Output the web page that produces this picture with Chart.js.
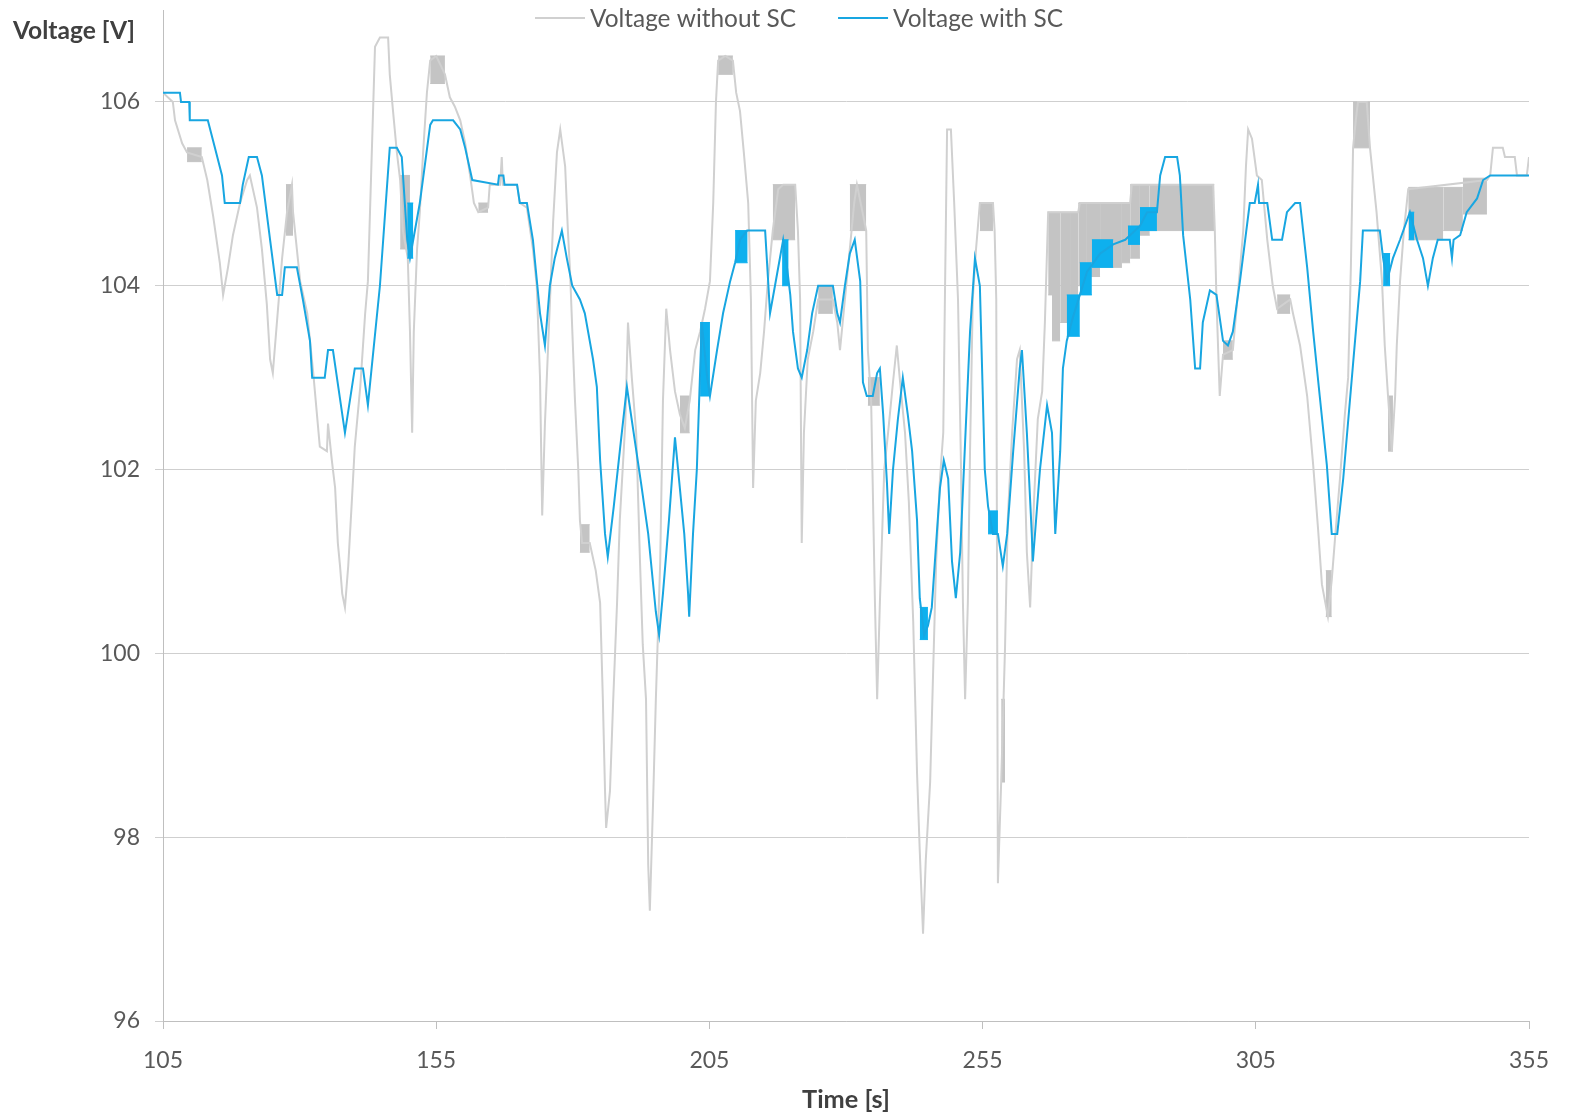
<!DOCTYPE html>
<html>
<head>
<meta charset="utf-8">
<title>Voltage with and without SC</title>
<script src="https://cdn.jsdelivr.net/npm/chart.js@4.4.1/dist/chart.umd.min.js"></script>
<style>
  html, body { margin: 0; padding: 0; background: #ffffff; }
  #wrap { width: 1573px; height: 1117px; }
</style>
</head>
<body>
<div id="wrap"><canvas id="chart" width="1573" height="1117"></canvas></div>
<script>
// ---- data ----
const seriesLabels = ['Voltage without SC', 'Voltage with SC'];
const xTicks = [105, 155, 205, 255, 305, 355];
const yTicks = [96, 98, 100, 102, 104, 106];

// Voltage without supercapacitor: time [s]
const timeWithout = [
  105.0,106.8,107.2,108.5,109.4,112.1,113.1,114.2,115.4,116.0,116.9,117.8,119.1,120.4,120.9,122.2,123.1,124.0,124.6,125.1,
  126.8,127.7,128.6,128.8,130.1,131.4,132.5,133.7,135.0,135.2,135.9,136.5,137.0,137.4,137.8,138.3,138.9,139.6,140.1,141.1,
  142.0,142.5,143.8,144.7,146.2,146.5,147.1,147.8,148.4,148.9,149.8,150.2,150.6,150.9,151.5,152.0,152.6,153.3,153.9,155.0,
  156.6,157.5,158.4,159.4,160.3,161.2,161.9,162.7,164.5,164.8,166.7,167.0,167.2,169.8,170.3,171.6,172.7,173.4,174.0,174.4,
  174.9,175.8,176.4,177.1,177.7,178.6,179.1,179.5,180.4,181.0,181.3,181.7,183.1,184.2,185.0,185.5,185.9,186.1,186.8,187.4,
  188.1,188.6,189.6,190.1,190.8,191.6,192.3,192.8,193.4,193.8,194.1,194.7,195.2,196.0,196.5,197.1,197.8,198.7,199.6,200.5,
  201.4,202.4,203.3,204.2,205.1,205.7,206.2,206.6,207.9,209.3,209.9,210.6,211.3,212.1,212.6,213.0,213.5,214.3,215.0,215.7,
  216.6,217.6,218.5,220.7,221.2,221.6,221.9,222.3,223.0,224.0,224.9,227.6,228.4,228.9,229.8,230.7,231.5,232.0,233.7,234.0,
  234.6,235.3,235.7,236.2,237.0,237.7,238.6,239.3,239.9,240.8,241.5,242.3,243.0,243.5,244.1,244.6,245.4,245.9,246.5,247.2,
  247.8,248.1,248.5,249.2,249.8,250.5,251.0,251.4,251.8,252.3,252.7,253.2,253.8,254.5,256.9,257.2,257.5,257.8,258.4,259.1,
  259.6,260.4,261.3,261.8,262.6,263.1,263.7,264.4,265.1,265.9,266.4,267.0,272.5,272.8,282.0,282.3,297.2,297.5,297.8,298.4,
  299.0,300.8,301.7,302.7,303.2,303.6,304.3,305.2,306.1,307.1,308.1,308.9,311.3,311.8,313.1,314.4,315.5,316.4,317.1,318.2,
  318.9,319.5,320.4,321.3,321.9,322.4,322.8,323.3,323.7,325.3,325.9,327.1,328.1,328.6,329.2,329.9,330.5,330.8,331.4,332.1,
  332.9,347.3,347.9,348.4,350.2,350.6,352.4,352.8,354.6,355.0
];
// Voltage without supercapacitor: voltage [V]
const voltWithout = [
  106.1,106.0,105.8,105.55,105.45,105.4,105.15,104.75,104.25,103.9,104.2,104.55,104.9,105.15,105.2,104.85,104.4,103.8,103.2,103.05,
  104.3,104.8,105.1,104.8,104.05,103.7,103.05,102.25,102.2,102.5,102.1,101.8,101.2,100.95,100.65,100.5,100.95,101.7,102.25,102.9,
  103.7,104.05,106.6,106.7,106.7,106.3,105.9,105.45,105.15,104.6,104.3,103.5,102.4,103.5,104.4,104.8,105.45,106.1,106.45,106.5,
  106.3,106.05,105.95,105.8,105.55,105.2,104.9,104.8,104.85,105.1,105.1,105.4,105.1,105.1,104.9,104.85,104.4,104.0,103.0,101.5,
  102.5,103.8,104.7,105.45,105.7,105.3,104.6,104.15,102.75,102.0,101.45,101.2,101.2,100.9,100.55,99.5,98.5,98.1,98.5,99.5,
  100.55,101.45,102.5,103.6,103.0,102.4,101.0,100.1,99.5,97.7,97.2,98.4,99.5,101.0,102.75,103.75,103.3,102.85,102.6,102.45,
  102.75,103.3,103.5,103.75,104.05,104.9,106.0,106.45,106.5,106.45,106.1,105.9,105.45,104.9,103.85,101.8,102.75,103.05,103.5,104.05,
  104.6,105.05,105.1,105.1,104.6,103.85,101.2,102.4,103.2,103.5,103.85,103.85,103.6,103.3,103.85,104.4,104.9,105.1,104.6,103.3,
  102.75,100.55,99.5,100.55,102.0,102.4,102.95,103.35,102.95,102.4,101.65,100.35,98.7,97.85,96.95,97.75,98.6,99.7,101.0,101.9,
  102.4,103.85,105.7,105.7,104.9,103.85,102.2,100.55,99.5,100.55,102.2,103.85,104.4,104.9,104.9,104.6,103.85,97.5,98.6,100.05,
  101.45,102.4,103.2,103.3,102.2,101.1,100.5,101.65,102.55,102.85,103.6,104.8,104.8,104.9,104.9,105.1,105.1,104.6,103.85,102.8,
  103.25,103.3,103.9,104.6,105.3,105.7,105.6,105.2,105.15,104.5,104.0,103.75,103.85,103.7,103.35,102.8,102.05,101.35,100.75,100.4,
  100.8,101.25,101.9,102.6,103.0,104.2,105.5,105.8,106.0,106.0,105.5,104.8,104.05,103.35,102.8,102.2,102.8,103.35,104.05,104.6,
  105.05,105.15,105.2,105.5,105.5,105.4,105.4,105.2,105.2,105.4
];

// Voltage with supercapacitor: time [s]
const timeWith = [
  105.0,108.1,108.3,109.8,109.9,113.2,114.5,115.8,116.3,119.1,119.6,120.7,122.2,123.1,124.6,125.9,126.8,127.3,129.5,130.6,
  131.9,132.3,134.6,135.2,136.1,138.3,140.1,141.6,142.5,144.7,146.5,147.8,148.7,149.7,150.2,150.8,152.0,153.9,154.4,158.1,
  159.4,160.3,161.6,166.3,166.5,167.3,167.5,169.8,170.3,171.6,172.7,174.0,174.9,175.8,176.7,178.0,178.9,179.9,181.3,182.2,
  183.7,184.4,185.0,185.9,186.4,187.5,188.6,189.9,192.5,193.8,195.2,195.8,196.5,197.6,198.7,200.4,201.1,201.3,202.0,202.7,
  203.6,204.6,205.1,206.4,207.5,208.8,209.7,210.6,211.9,215.2,215.5,216.1,217.0,218.5,219.2,219.8,220.3,221.2,221.9,222.9,
  223.8,224.9,227.6,228.4,228.9,229.8,230.7,231.6,232.6,233.1,233.8,234.9,235.7,236.2,236.8,237.5,237.9,238.6,239.5,240.4,
  241.3,242.1,243.0,243.5,244.3,245.0,245.7,246.5,247.2,247.9,248.7,249.4,250.1,250.9,251.8,252.7,253.6,254.5,255.4,256.0,
  256.9,257.8,258.7,259.5,260.6,261.8,262.2,263.1,264.0,264.2,265.5,266.8,267.7,268.3,269.2,269.7,270.4,271.5,272.8,274.1,
  275.9,276.5,278.9,281.1,283.8,285.1,286.9,287.5,288.4,290.6,291.1,291.7,293.0,293.9,294.8,295.3,296.6,297.8,299.0,299.9,
  300.8,302.1,303.9,304.8,305.4,305.6,307.1,308.0,309.8,310.7,312.2,313.1,314.4,315.5,316.7,318.0,318.9,319.9,321.0,322.8,
  324.1,324.6,327.7,328.3,329.0,330.1,331.4,333.2,334.5,335.6,336.5,337.4,338.3,340.5,340.9,341.2,342.4,343.6,345.5,346.6,
  347.9,355.0
];
// Voltage with supercapacitor: voltage [V]
const voltWith = [
  106.1,106.1,106.0,106.0,105.8,105.8,105.5,105.2,104.9,104.9,105.1,105.4,105.4,105.2,104.5,103.9,103.9,104.2,104.2,103.85,
  103.4,103.0,103.0,103.3,103.3,102.4,103.1,103.1,102.7,104.0,105.5,105.5,105.4,104.5,104.3,104.5,104.9,105.75,105.8,105.8,
  105.7,105.5,105.15,105.1,105.2,105.2,105.1,105.1,104.9,104.9,104.5,103.7,103.35,104.0,104.3,104.6,104.3,104.0,103.85,103.7,
  103.2,102.9,102.1,101.3,101.05,101.6,102.2,102.9,101.85,101.3,100.45,100.2,100.65,101.45,102.35,101.3,100.65,100.4,101.3,102.0,
  103.6,103.0,102.8,103.3,103.7,104.05,104.25,104.5,104.6,104.6,104.3,103.7,104.0,104.5,104.2,103.9,103.5,103.1,103.0,103.3,
  103.7,104.0,104.0,103.7,103.6,104.0,104.35,104.5,104.05,102.95,102.8,102.8,103.05,103.1,102.6,101.85,101.3,102.0,102.55,103.0,
  102.6,102.2,101.45,100.6,100.2,100.3,100.5,101.2,101.8,102.1,101.9,101.0,100.6,101.1,102.3,103.5,104.3,104.0,102.0,101.6,
  101.3,101.3,100.95,101.3,102.2,103.1,103.3,102.4,101.3,101.0,102.0,102.7,102.4,101.3,102.2,103.1,103.4,103.65,103.9,104.15,
  104.3,104.35,104.45,104.5,104.65,104.8,104.8,105.2,105.4,105.4,105.2,104.55,103.85,103.1,103.1,103.6,103.95,103.9,103.4,103.35,
  103.5,104.05,104.9,104.9,105.1,104.9,104.9,104.5,104.5,104.8,104.9,104.9,104.2,103.5,102.8,102.05,101.3,101.3,101.9,103.15,
  104.05,104.6,104.6,104.3,104.05,104.3,104.5,104.8,104.5,104.3,104.0,104.3,104.5,104.5,104.3,104.5,104.55,104.8,104.95,105.15,
  105.2,105.2
];

// Fast switching stretches: [start s, end s, low V, high V]
const bandsWithout = [
  [109.4,112.1,105.35,105.5],[127.5,128.8,104.55,105.1],[148.4,150.2,104.4,105.2],[153.9,156.6,106.2,106.5],
  [162.7,164.5,104.8,104.9],[181.3,183.1,101.1,101.4],[199.6,201.4,102.4,102.8],[206.6,209.3,106.3,106.5],
  [216.6,220.7,104.5,105.1],[224.9,227.6,103.7,104.0],[230.7,233.7,104.6,105.1],[234.0,236.2,102.7,103.0],
  [254.5,256.9,104.6,104.9],[258.4,259.1,98.6,99.5],
  [267.0,267.7,103.9,104.8],[267.7,269.2,103.4,104.8],[269.2,271.0,103.6,104.8],[271.0,272.5,103.85,104.8],
  [272.5,274.1,104.0,104.9],[274.1,276.5,104.1,104.9],[276.5,280.5,104.2,104.9],[280.5,282.0,104.25,104.9],
  [282.0,283.8,104.3,105.1],[283.8,285.6,104.55,105.1],[285.6,297.4,104.6,105.1],
  [299.0,300.8,103.2,103.4],[308.9,311.3,103.7,103.9],[317.8,318.9,100.4,100.9],[322.8,325.9,105.5,106.0],
  [329.2,330.1,102.2,102.8],[332.9,339.3,104.5,105.07],[339.3,342.9,104.6,105.07],[342.9,347.3,104.78,105.17]
];
const bandsWith = [
  [149.7,150.8,104.3,104.9],[203.3,205.1,102.8,103.6],[209.7,212.0,104.25,104.6],[218.3,219.5,104.0,104.5],
  [243.5,245.0,100.15,100.5],[256.0,257.8,101.3,101.55],[270.4,272.8,103.45,103.9],[272.8,275.0,103.9,104.25],
  [275.0,278.9,104.2,104.5],[281.6,283.8,104.45,104.65],[283.8,286.9,104.6,104.85],[328.3,329.6,104.0,104.35],
  [333.0,334.0,104.5,104.8]
];

// ---- styling ----
const FAMILY = 'Lato, "Open Sans", sans-serif';
const GRAY = '#d0d0d0';
const GRAY_BAND = '#c4c4c4';
const BLUE = '#18a6e1';
const BLUE_BAND = '#0eb0ee';
const TEXT = '#595959';
const TITLE = '#404040';

function fitSize(text, target, weight) {
  const ctx = document.createElement('canvas').getContext('2d');
  ctx.font = weight + ' 100px ' + FAMILY;
  return Math.round(1000 * target / ctx.measureText(text).width) / 10;
}
const tickSize = fitSize('106', 40, 'normal');
const legendSize = fitSize(seriesLabels[0], 206, 'normal');
const yTitleSize = fitSize('Voltage [V]', 122, 'bold');
const xTitleSize = fitSize('Time [s]', 88, 'bold');

const toPoints = (ts, vs) => ts.map((t, i) => ({ x: t, y: vs[i] }));

const datasets = [];
datasets.push({
  label: seriesLabels[1], data: toPoints(timeWith, voltWith),
  borderColor: BLUE, borderWidth: 2, fill: false, order: 0
});
bandsWith.forEach(([s, e, lo, hi]) => {
  datasets.push({ data: [{ x: s, y: hi }, { x: e, y: hi }], borderColor: BLUE_BAND, borderWidth: 1, fill: false, order: 1 });
  datasets.push({ data: [{ x: s, y: lo }, { x: e, y: lo }], borderColor: BLUE_BAND, backgroundColor: BLUE_BAND, borderWidth: 1, fill: '-1', order: 1 });
});
datasets.push({
  label: seriesLabels[0], data: toPoints(timeWithout, voltWithout),
  borderColor: GRAY, borderWidth: 2, fill: false, order: 2
});
bandsWithout.forEach(([s, e, lo, hi]) => {
  datasets.push({ data: [{ x: s, y: hi }, { x: e, y: hi }], borderColor: GRAY_BAND, borderWidth: 1, fill: false, order: 3 });
  datasets.push({ data: [{ x: s, y: lo }, { x: e, y: lo }], borderColor: GRAY_BAND, backgroundColor: GRAY_BAND, borderWidth: 1, fill: '-1', order: 3 });
});

// legend along the top edge and the horizontal y-axis caption
const captions = {
  id: 'captions',
  afterDraw(chart) {
    const ctx = chart.ctx;
    ctx.save();
    ctx.font = legendSize + 'px ' + FAMILY;
    ctx.textBaseline = 'middle';
    ctx.textAlign = 'left';
    let x = 535;
    const y = 18;
    [[seriesLabels[0], GRAY], [seriesLabels[1], BLUE]].forEach(([label, color]) => {
      ctx.strokeStyle = color;
      ctx.lineWidth = 2;
      ctx.beginPath();
      ctx.moveTo(x, y);
      ctx.lineTo(x + 50, y);
      ctx.stroke();
      ctx.fillStyle = TEXT;
      ctx.fillText(label, x + 55, y + 1);
      x += 55 + ctx.measureText(label).width + 42;
    });
    ctx.font = 'bold ' + yTitleSize + 'px ' + FAMILY;
    ctx.fillStyle = TITLE;
    ctx.fillText('Voltage [V]', 13, 31);
    ctx.restore();
  }
};

new Chart(document.getElementById('chart'), {
  type: 'line',
  data: { datasets },
  plugins: [captions],
  options: {
    responsive: false,
    animation: false,
    events: [],
    layout: { padding: { top: 10, right: 44, bottom: 0, left: 0 } },
    elements: {
      point: { radius: 0 },
      line: { tension: 0, borderJoinStyle: 'miter' }
    },
    plugins: {
      legend: { display: false },
      tooltip: { enabled: false }
    },
    scales: {
      x: {
        type: 'linear', min: 105, max: 355,
        afterBuildTicks: (scale) => { scale.ticks = xTicks.map(v => ({ value: v })); },
        afterFit: (scale) => {
          scale.height = 96;
          scale.paddingLeft = 0;
          scale.paddingRight = 0;
        },
        ticks: { color: TEXT, font: { family: FAMILY, size: tickSize }, padding: 18, maxRotation: 0 },
        grid: { drawOnChartArea: false, drawTicks: true, tickLength: 8, color: '#bfbfbf' },
        border: { color: '#bfbfbf', width: 1 },
        title: {
          display: true, text: 'Time [s]', color: TITLE,
          font: { family: FAMILY, size: xTitleSize, weight: 'bold' },
          padding: { top: 0, bottom: 2 }
        }
      },
      y: {
        type: 'linear', min: 96, max: 107,
        afterBuildTicks: (scale) => { scale.ticks = yTicks.map(v => ({ value: v })); },
        afterFit: (scale) => {
          scale.width = 163;
          scale.paddingTop = 0;
          scale.paddingBottom = 0;
        },
        ticks: { color: TEXT, font: { family: FAMILY, size: tickSize }, padding: 15 },
        grid: { color: '#cfcfcf', lineWidth: 1, drawTicks: true, tickLength: 8 },
        border: { color: '#bfbfbf', width: 1 }
      }
    }
  }
});
</script>
</body>
</html>
